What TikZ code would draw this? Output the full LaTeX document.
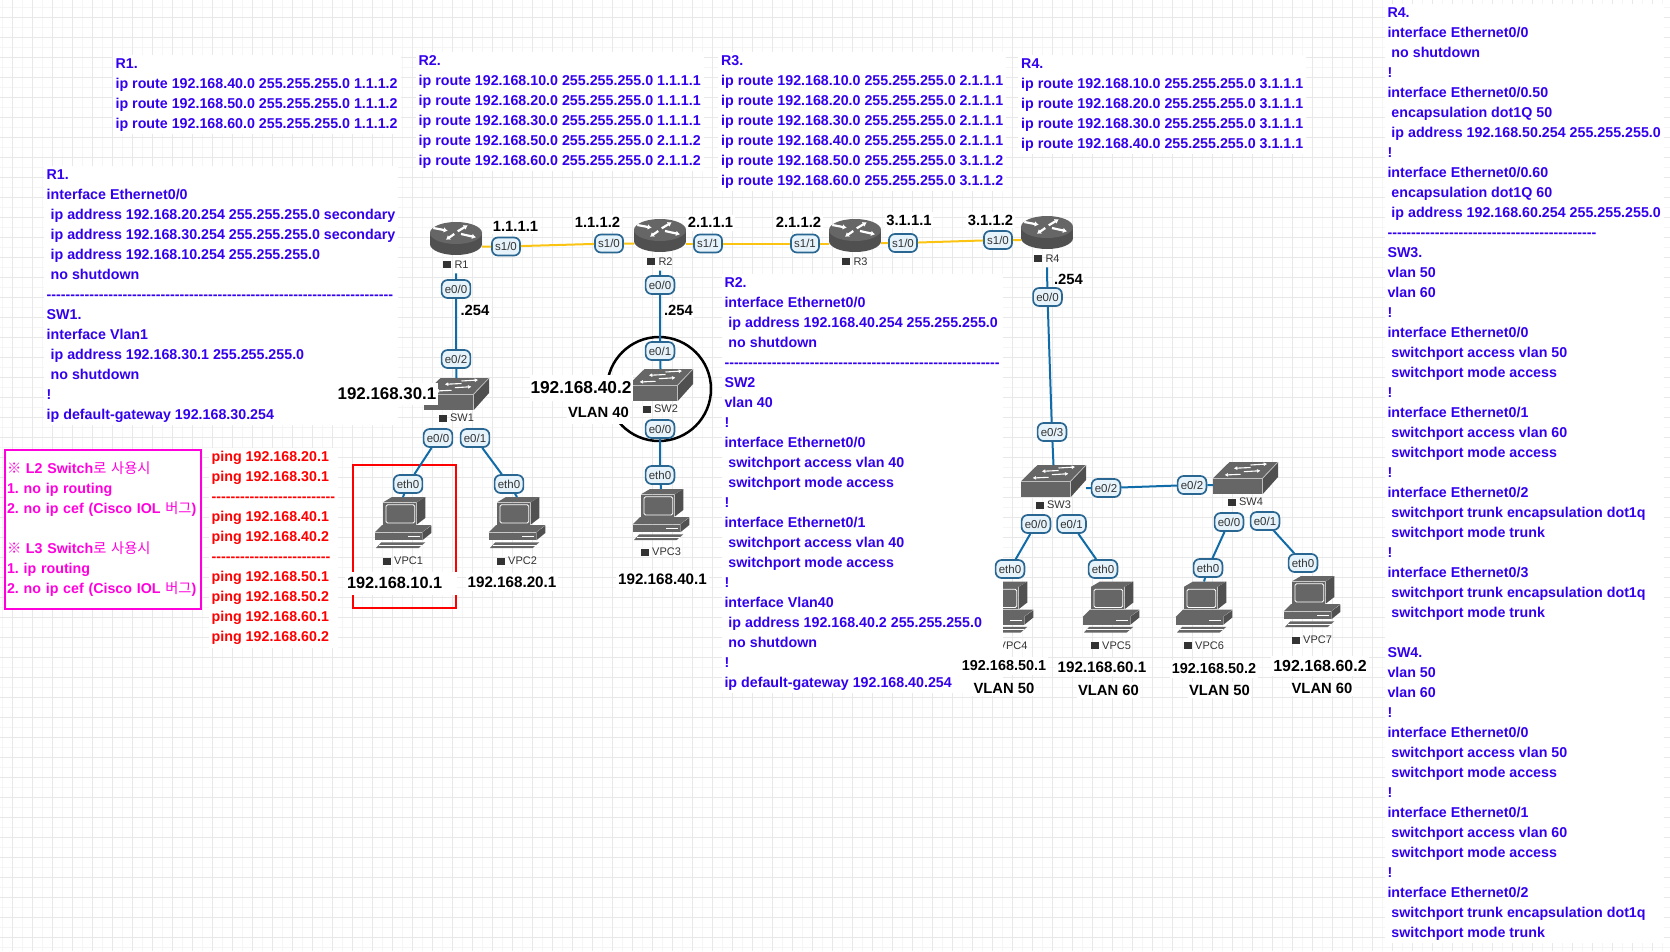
\documentclass[tikz,border=0pt]{standalone}
\usepackage{fontspec}
\setmainfont{Liberation Sans}[Ligatures=TeXOff]
\newfontfamily\krfont{Noto Sans CJK KR}
\usepackage{xcolor}
\usetikzlibrary{arrows.meta,positioning}

\definecolor{cfgblue}{HTML}{3300EE}
\definecolor{notepink}{HTML}{FF00DD}
\definecolor{ethblue}{HTML}{0F6CA8}
\definecolor{serialgold}{HTML}{FBC412}
\definecolor{icongray}{HTML}{666666}
\definecolor{icondark}{HTML}{505050}
\definecolor{pillfill}{HTML}{E6F3FB}
\definecolor{pillline}{HTML}{2A6692}

\newcommand{\cfgfont}{\bfseries\fontsize{14.25}{20}\selectfont\frenchspacing}
\newcommand{\kr}[1]{{\mdseries\krfont #1}}

\tikzset{
    iconarrow/.style={white, line width=1.1pt, -{Latex[length=3.5pt,width=4pt]}},
    routerarrow/.style={white, line width=2.2pt, -{Latex[length=4pt,width=5.5pt]}},
    routericon/.pic={
        \fill[icondark] (0,6) ellipse [x radius=26, y radius=11];
        \fill[icondark] (-26,-5) rectangle (26,6);
        \fill[icongray] (0,-5) ellipse [x radius=26, y radius=11];
        \draw[routerarrow] (-22.7,-10) -- (-8.3,-7.3);
        \draw[routerarrow] (1.7,-6.7) -- (11.7,-12.7);
        \draw[routerarrow] (-1.7,-4) -- (-10,1.7);
        \draw[routerarrow] (5,-4) -- (20,-0.7);
    },
    switchicon/.pic={
        \fill[icongray] (-32.5,0.3) -- (16.5,0.3) -- (32.5,-16) -- (-16,-16) -- cycle;
        \fill[icongray] (-32.5,1) rectangle (16.5,16);
        \fill[icondark] (17.3,0.3) -- (32.5,-16) -- (32.5,-1) -- (17.3,16) -- cycle;
        \draw[white!75!black, line width=0.7pt] (-32.5,0.6) -- (16.8,0.6) -- (16.8,16);
        \draw[white!75!black, line width=0.7pt] (16.8,0.6) -- (32.5,-16);
        \draw[iconarrow] (5,-10.5) -- (-11.7,-9.7);
        \draw[iconarrow] (5,-13) -- (21.7,-14);
        \draw[iconarrow] (-5,-3.7) -- (-21,-3);
        \draw[iconarrow] (-1.7,-6.3) -- (15,-7.3);
    },
    pcicon/.pic={
        \fill[icongray] (-20,-20.7) -- (-11,-26) -- (22.3,-26) -- (13.3,-20.7) -- cycle;
        \fill[icongray] (-20,-20.2) rectangle (13,1.7);
        \fill[icondark] (13.6,-20.7) -- (22.3,-26) -- (22.3,-5) -- (13.6,1.7) -- cycle;
        \draw[white, line width=0.8pt, rounded corners=1.5pt] (-17,-18.3) rectangle (11.7,0);
        \fill[icongray] (-28.3,9.3) -- (-21,2.2) -- (28.3,2.2) -- (19,9.3) -- cycle;
        \fill[icongray] (-28.3,9.8) rectangle (18.7,17.3);
        \fill[icondark] (19.3,9.3) -- (28.3,2.7) -- (28.3,10) -- (19.3,17.3) -- cycle;
        \draw[white, line width=1pt] (5,13.3) -- (17.3,13.3);
        \fill[icongray] (-27,25) -- (15.7,25) -- (22.3,19.3) -- (-21.7,19.3) -- cycle;
        \draw[white, line width=0.6pt] (-24,22) -- (19,22);
    },
}

\begin{document}
\begin{tikzpicture}[
        x=1pt, y=-1pt,
        routerbox/.style={minimum width=52pt, minimum height=35pt, inner sep=0pt, outer sep=0pt},
        switchbox/.style={minimum width=65pt, minimum height=32pt, inner sep=0pt, outer sep=0pt},
        pcbox/.style={minimum width=58pt, minimum height=52pt, inner sep=0pt, outer sep=0pt},
        devlabel/.style={inner sep=0pt, text=black!80, font=\fontsize{11}{12}\selectfont},
        port/.style={draw=pillline, fill=pillfill, line width=1.7pt, rounded corners=6pt, minimum height=18pt, inner xsep=3.2pt, inner ysep=0pt, text=black!80, font=\fontsize{11.5}{12}\selectfont},
        linklabel/.style={fill=white, inner xsep=1.5pt, inner ysep=3pt, font=\bfseries\fontsize{14.8}{16}\selectfont},
        iplabel/.style={fill=white, inner xsep=2pt, inner ysep=4pt, font=\bfseries\fontsize{15.2}{17}\selectfont},
        smallip/.style={iplabel, font=\bfseries\fontsize{14.4}{17}\selectfont},
        wideip/.style={iplabel, font=\bfseries\fontsize{16}{17}\selectfont},
        biglabel/.style={fill=white, inner xsep=2pt, inner ysep=5pt, font=\bfseries\fontsize{17.3}{19}\selectfont},
        cfgblock/.style={anchor=north west, fill=white, align=left, inner sep=3pt, text=cfgblue, font=\cfgfont},
        pingblock/.style={cfgblock, text=red},
        ethlink/.style={draw=ethblue, line width=2pt},
        seriallink/.style={draw=serialgold, line width=2pt}]

        % Page and grid
        \fill[white] (0,0) rectangle (1670,951);
        \useasboundingbox (0,0) rectangle (1670,951);
        \foreach \gx in {2.7,22.7,...,1670} {\draw[black!4, line width=0.8pt] (\gx,0) -- (\gx,951);}
        \foreach \gy in {7.3,27.3,...,951} {\draw[black!4, line width=0.8pt] (0,\gy) -- (1670,\gy);}
        \foreach \gx in {12.7,32.7,...,1670} {\draw[black!9, line width=1pt] (\gx,0) -- (\gx,951);}
        \foreach \gy in {17.3,37.3,...,951} {\draw[black!9, line width=1pt] (0,\gy) -- (1670,\gy);}

        % Routers
        \pic at (456,238) {routericon}; \node[routerbox] (r1) at (456,238) {};
        \pic at (660,235) {routericon}; \node[routerbox] (r2) at (660,235) {};
        \pic at (855,235) {routericon}; \node[routerbox] (r3) at (855,235) {};
        \pic at (1047,232) {routericon}; \node[routerbox] (r4) at (1047,232) {};

        % Switches
        \pic at (456.5,394) {switchicon}; \node[switchbox] (sw1) at (456.5,394) {};
        \pic at (660.5,385) {switchicon}; \node[switchbox] (sw2) at (660.5,385) {};
        \pic at (1053.5,481) {switchicon}; \node[switchbox] (sw3) at (1053.5,481) {};
        \pic at (1245.5,478) {switchicon}; \node[switchbox] (sw4) at (1245.5,478) {};

        % VPCs
        \pic at (403,523) {pcicon}; \node[pcbox] (vpc1) at (403,523) {};
        \pic at (517,523) {pcicon}; \node[pcbox] (vpc2) at (517,523) {};
        \pic at (661,515) {pcicon}; \node[pcbox] (vpc3) at (661,515) {};
        \pic at (1005,607.5) {pcicon}; \node[pcbox] (vpc4) at (1005,607.5) {};
        \pic at (1111,607.5) {pcicon}; \node[pcbox] (vpc5) at (1111,607.5) {};
        \pic at (1204,607.5) {pcicon}; \node[pcbox] (vpc6) at (1204,607.5) {};
        \pic at (1312,602) {pcicon}; \node[pcbox] (vpc7) at (1312,602) {};

        % Device names
        \node[devlabel, below=5pt of r1] (r1lab) {\rule{8pt}{7pt}~R1};
        \node[devlabel, below=5pt of r2] (r2lab) {\rule{8pt}{7pt}~R2};
        \node[devlabel, below=5pt of r3] (r3lab) {\rule{8pt}{7pt}~R3};
        \node[devlabel, below=5pt of r4] (r4lab) {\rule{8pt}{7pt}~R4};
        \node[devlabel, below=4pt of sw1] (sw1lab) {\rule{8pt}{7pt}~SW1};
        \node[devlabel, below=4pt of sw2] (sw2lab) {\rule{8pt}{7pt}~SW2};
        \node[devlabel, below=4pt of sw3] (sw3lab) {\rule{8pt}{7pt}~SW3};
        \node[devlabel, below=4pt of sw4] (sw4lab) {\rule{8pt}{7pt}~SW4};
        \node[devlabel, below=8pt of vpc1] (vpc1lab) {\rule{8pt}{7pt}~VPC1};
        \node[devlabel, below=8pt of vpc2] (vpc2lab) {\rule{8pt}{7pt}~VPC2};
        \node[devlabel, below=7pt of vpc3] (vpc3lab) {\rule{8pt}{7pt}~VPC3};
        \node[devlabel, below=8pt of vpc4, xshift=2.5pt] (vpc4lab) {\rule{8pt}{7pt}~VPC4};
        \node[devlabel, below=8pt of vpc5] (vpc5lab) {\rule{8pt}{7pt}~VPC5};
        \node[devlabel, below=8pt of vpc6] (vpc6lab) {\rule{8pt}{7pt}~VPC6};
        \node[devlabel, below=8pt of vpc7] (vpc7lab) {\rule{8pt}{7pt}~VPC7};

        % Marks
        \node[draw=black, line width=2.5pt, circle, minimum size=104pt, inner sep=0pt] (sw2ring) at (659,389) {};
        \node[draw=red, line width=2.5pt, minimum width=103pt, minimum height=143pt] (vpc1mark) at (404.5,536.5) {};

        % Static routes
        \node[cfgblock] (routesr1) at (112.4,55) {R1.\\
            ip route 192.168.40.0 255.255.255.0 1.1.1.2\\
            ip route 192.168.50.0 255.255.255.0 1.1.1.2\\
            ip route 192.168.60.0 255.255.255.0 1.1.1.2};
        \node[cfgblock] (routesr2) at (415.5,52) {R2.\\
            ip route 192.168.10.0 255.255.255.0 1.1.1.1\\
            ip route 192.168.20.0 255.255.255.0 1.1.1.1\\
            ip route 192.168.30.0 255.255.255.0 1.1.1.1\\
            ip route 192.168.50.0 255.255.255.0 2.1.1.2\\
            ip route 192.168.60.0 255.255.255.0 2.1.1.2};
        \node[cfgblock] (routesr3) at (718,52) {R3.\\
            ip route 192.168.10.0 255.255.255.0 2.1.1.1\\
            ip route 192.168.20.0 255.255.255.0 2.1.1.1\\
            ip route 192.168.30.0 255.255.255.0 2.1.1.1\\
            ip route 192.168.40.0 255.255.255.0 2.1.1.1\\
            ip route 192.168.50.0 255.255.255.0 3.1.1.2\\
            ip route 192.168.60.0 255.255.255.0 3.1.1.2};
        \node[cfgblock] (routesr4) at (1018,55) {R4.\\
            ip route 192.168.10.0 255.255.255.0 3.1.1.1\\
            ip route 192.168.20.0 255.255.255.0 3.1.1.1\\
            ip route 192.168.30.0 255.255.255.0 3.1.1.1\\
            ip route 192.168.40.0 255.255.255.0 3.1.1.1};

        % Device configs
        \node[cfgblock] (cfgsw1) at (43.5,166) {R1.\\
            interface Ethernet0/0\\
            ~ip address 192.168.20.254 255.255.255.0 secondary\\
            ~ip address 192.168.30.254 255.255.255.0 secondary\\
            ~ip address 192.168.10.254 255.255.255.0\\
            ~no shutdown\\
            -------------------------------------------------------------------------\\
            SW1.\\
            interface Vlan1\\
            ~ip address 192.168.30.1 255.255.255.0\\
            ~no shutdown\\
            !\\
            ip default-gateway 192.168.30.254};
        \node[cfgblock] (cfgsw2) at (721.3,274) {R2.\\
            interface Ethernet0/0\\
            ~ip address 192.168.40.254 255.255.255.0\\
            ~no shutdown\\
            ----------------------------------------------------------\\
            SW2\\
            vlan 40\\
            !\\
            interface Ethernet0/0\\
            ~switchport access vlan 40\\
            ~switchport mode access\\
            !\\
            interface Ethernet0/1\\
            ~switchport access vlan 40\\
            ~switchport mode access\\
            !\\
            interface Vlan40\\
            ~ip address 192.168.40.2 255.255.255.0\\
            ~no shutdown\\
            !\\
            ip default-gateway 192.168.40.254};
        \node[cfgblock] (cfgsw34) at (1384.3,4) {R4.\\
            interface Ethernet0/0\\
            ~no shutdown\\
            !\\
            interface Ethernet0/0.50\\
            ~encapsulation dot1Q 50\\
            ~ip address 192.168.50.254 255.255.255.0\\
            !\\
            interface Ethernet0/0.60\\
            ~encapsulation dot1Q 60\\
            ~ip address 192.168.60.254 255.255.255.0\\
            --------------------------------------------\\
            SW3.\\
            vlan 50\\
            vlan 60\\
            !\\
            interface Ethernet0/0\\
            ~switchport access vlan 50\\
            ~switchport mode access\\
            !\\
            interface Ethernet0/1\\
            ~switchport access vlan 60\\
            ~switchport mode access\\
            !\\
            interface Ethernet0/2\\
            ~switchport trunk encapsulation dot1q\\
            ~switchport mode trunk\\
            !\\
            interface Ethernet0/3\\
            ~switchport trunk encapsulation dot1q\\
            ~switchport mode trunk\\
            ~\\
            SW4.\\
            vlan 50\\
            vlan 60\\
            !\\
            interface Ethernet0/0\\
            ~switchport access vlan 50\\
            ~switchport mode access\\
            !\\
            interface Ethernet0/1\\
            ~switchport access vlan 60\\
            ~switchport mode access\\
            !\\
            interface Ethernet0/2\\
            ~switchport trunk encapsulation dot1q\\
            ~switchport mode trunk};

        % Notes
        \node[draw=notepink, line width=2.5pt, fill=white, align=left, inner sep=0pt, text=notepink, font=\cfgfont, text width=192pt, minimum width=196pt, minimum height=159pt] (switchnote) at (103,529.5) {\kr{※} L2 Switch\kr{로 사용시}\\
            1. no ip routing\\
            2. no ip cef (Cisco IOL \kr{버그})\\
            ~\\
            \kr{※} L3 Switch\kr{로 사용시}\\
            1. ip routing\\
            2. no ip cef (Cisco IOL \kr{버그})};
        \node[pingblock] (pinglist) at (208.5,448) {ping 192.168.20.1\\
            ping 192.168.30.1\\
            --------------------------\\
            ping 192.168.40.1\\
            ping 192.168.40.2\\
            -------------------------\\
            ping 192.168.50.1\\
            ping 192.168.50.2\\
            ping 192.168.60.1\\
            ping 192.168.60.2};

        % Addresses
        \node[linklabel] (ip111) at (515.5,226) {1.1.1.1};
        \node[linklabel] (ip112) at (597.5,222.7) {1.1.1.2};
        \node[linklabel] (ip211) at (710.5,222.7) {2.1.1.1};
        \node[linklabel] (ip212) at (798.5,222.7) {2.1.1.2};
        \node[linklabel] (ip311) at (909,220) {3.1.1.1};
        \node[linklabel] (ip312) at (990.5,220) {3.1.1.2};
        \node[linklabel] (gwr1) at (475,310) {.254};
        \node[linklabel] (gwr2) at (678.5,310) {.254};
        \node[linklabel] (gwr4) at (1068.5,279) {.254};
        \node[biglabel, font=\bfseries\fontsize{16.9}{19}\selectfont] (ipsw1) at (387,394) {192.168.30.1};
        \node[biglabel, inner ysep=7pt, inner xsep=1pt] (ipsw2) at (581,388) {192.168.40.2};
        \node[linklabel, inner ysep=6.5pt] (vlansw2) at (598.5,412) {VLAN 40};
        \node[iplabel, font=\bfseries\fontsize{16.3}{17}\selectfont, text width=108pt, align=left, minimum height=23pt] (ipvpc1) at (401,583) {192.168.10.1};
        \node[iplabel] (ipvpc2) at (512,582) {192.168.20.1};
        \node[iplabel] (ipvpc3) at (662.5,579) {192.168.40.1};
        \node[smallip] (ipvpc4) at (1004,666) {192.168.50.1};
        \node[iplabel] (ipvpc5) at (1102,667) {192.168.60.1};
        \node[smallip] (ipvpc6) at (1214,669) {192.168.50.2};
        \node[wideip] (ipvpc7) at (1320,666) {192.168.60.2};
        \node[linklabel] (vlanvpc4) at (1004,688) {VLAN 50};
        \node[linklabel] (vlanvpc5) at (1108.5,690) {VLAN 60};
        \node[linklabel] (vlanvpc6) at (1219.5,690) {VLAN 50};
        \node[linklabel] (vlanvpc7) at (1322,688) {VLAN 60};

        % Ports
        \node[port] (r1s0) at (506,246.5) {s1/0};
        \node[port] (r2s0) at (609,243.5) {s1/0};
        \node[port] (r2s1) at (708,243.5) {s1/1};
        \node[port] (r3s1) at (805,243.5) {s1/1};
        \node[port] (r3s0) at (903,243) {s1/0};
        \node[port] (r4s0) at (998,240) {s1/0};
        \node[port] (r1e0) at (456,289) {e0/0};
        \node[port] (sw1e2) at (456,359) {e0/2};
        \node[port] (sw1e0) at (438,438) {e0/0};
        \node[port] (sw1e1) at (475,438) {e0/1};
        \node[port] (vpc1e0) at (408,484) {eth0};
        \node[port] (vpc2e0) at (509,484) {eth0};
        \node[port] (r2e0) at (660,285) {e0/0};
        \node[port] (sw2e1) at (660,351) {e0/1};
        \node[port] (sw2e0) at (660,429) {e0/0};
        \node[port] (vpc3e0) at (660,475) {eth0};
        \node[port] (r4e0) at (1047.5,297) {e0/0};
        \node[port] (sw3e3) at (1052,432) {e0/3};
        \node[port] (sw3e2) at (1106,488) {e0/2};
        \node[port] (sw4e2) at (1192,485) {e0/2};
        \node[port] (sw3e0) at (1036,524) {e0/0};
        \node[port] (sw3e1) at (1071.5,524) {e0/1};
        \node[port] (sw4e0) at (1229,522) {e0/0};
        \node[port] (sw4e1) at (1265,521) {e0/1};
        \node[port] (vpc4e0) at (1010,569) {eth0};
        \node[port] (vpc5e0) at (1103,569) {eth0};
        \node[port] (vpc6e0) at (1208,568) {eth0};
        \node[port] (vpc7e0) at (1303,563) {eth0};

        % Connections
        \draw[seriallink] (r1s0 -| r1.east) -- (r1s0) -- (r2s0) -- (r2s0 -| r2.west);
        \draw[seriallink] (r2s1 -| r2.east) -- (r2s1) -- (r3s1) -- (r3s1 -| r3.west);
        \draw[seriallink] (r3s0 -| r3.east) -- (r3s0) -- (r4s0) -- (r4s0 -| r4.west);

        \draw[ethlink] ([yshift=-5pt]r1lab.south) -- (r1e0) -- (sw1e2) -- (sw1.north);
        \draw[ethlink] (sw1e0) -- (vpc1e0) -- (vpc1.north);
        \draw[ethlink] (sw1e1) -- (vpc2e0) -- (vpc2.north);
        \draw[ethlink] ([yshift=-5pt]r2lab.south) -- (r2e0) -- (sw2e1) -- (sw2.north);
        \draw[ethlink] (sw2e0) -- (vpc3e0) -- (vpc3.north);
        \draw[ethlink] ([yshift=-5pt]r4lab.south) -- (r4e0) -- (sw3e3) -- (sw3.north);
        \draw[ethlink] (sw3.east |- sw3e2) -- (sw3e2) -- (sw4e2) -- (sw4.west |- sw4e2);
        \draw[ethlink] (sw3e0) -- (vpc4e0);
        \draw[ethlink] (sw3e1) -- (vpc5e0);
        \draw[ethlink] (sw4e0) -- (vpc6e0) -- (vpc6.north);
        \draw[ethlink] (sw4e1) -- (vpc7e0);

\end{tikzpicture}
\end{document}
